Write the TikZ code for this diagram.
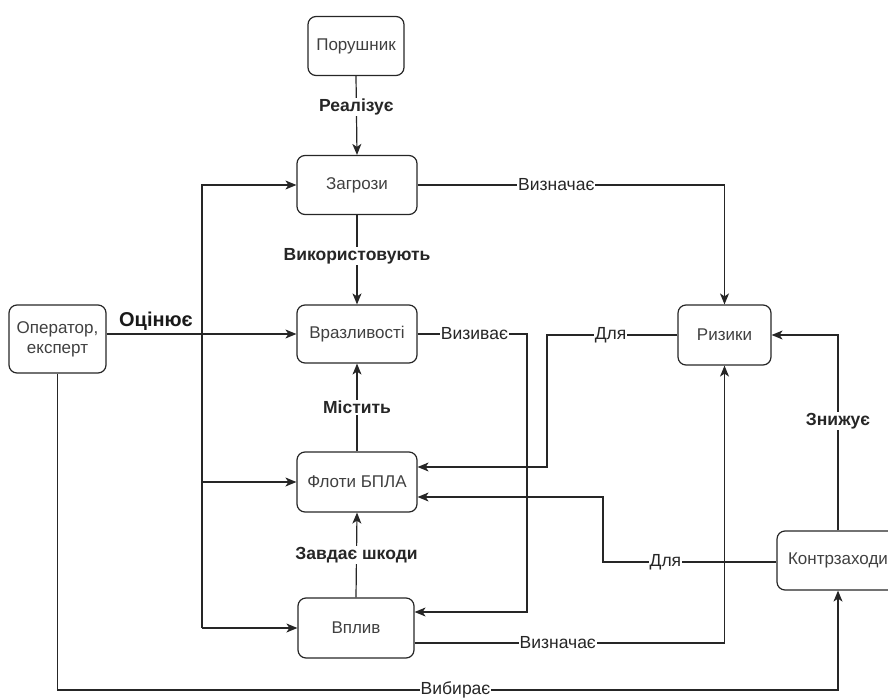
\documentclass[tikz,border=0pt]{standalone}
\usepackage{fontspec}
\setmainfont{Liberation Sans}
\usetikzlibrary{arrows.meta}

\begin{document}
\begin{tikzpicture}[x=1pt,y=-1pt,
  box/.style={draw=black!85, rounded corners=8pt, line width=1.2pt,
    minimum height=59pt, inner sep=0pt, align=center,
    text=black!75, font=\fontsize{17}{20}\selectfont},
  link/.style={draw=black!85, line width=1.2pt, -{Stealth[length=11pt,width=9pt,inset=3pt]}},
  wire/.style={draw=black!85, line width=1.2pt},
  lbl/.style={fill=white, inner sep=1pt, text=black!85, font=\fontsize{17.5}{20}\selectfont},
  blbl/.style={lbl, font=\fontsize{17.5}{20}\selectfont\bfseries}
]
\useasboundingbox (0,0) rectangle (888,698);

% entities
\node[box, minimum width=96pt]  (por) at (356,46)  {Порушник};
\node[box, minimum width=120pt] (zag) at (357,185) {Загрози};
\node[box, minimum width=120pt, minimum height=58pt] (vra) at (357,334) {Вразливості};
\node[box, minimum width=120pt, minimum height=60pt] (flo) at (357,482) {Флоти БПЛА};
\node[box, minimum width=116pt, minimum height=60pt] (vpl) at (356,628) {Вплив};
\node[box, minimum width=97pt, minimum height=68pt]  (op)  at (57.5,339) {Оператор,\\експерт};
\node[box, minimum width=93pt, minimum height=60pt]  (riz) at (724.5,335) {Ризики};
\node[box, minimum width=122pt] (kon) at (838,560.5) {Контрзаходи};

% routing points
\coordinate (jx) at (202,0);
\coordinate (cv) at (527,612);
\coordinate (cr) at (547,467);
\coordinate (ck) at (603,497);
\coordinate (cb) at (0,690);

% main chain
\draw[link] (por.south) -- node[blbl, pos=0.39] {Реалізує} (zag.north);
\draw[link] (zag.south) -- node[blbl, pos=0.46] {Використовують} (vra.north);
\draw[link] (flo.north) -- node[blbl, pos=0.5] {Містить} (vra.south);
\draw[link] (vpl.north) -- node[blbl, pos=0.5] {Завдає шкоди} (flo.south);

% risks
\draw[link] (zag.east) -| node[lbl, pos=0.226] {Визначає} (riz.north);
\draw[link] (vpl.east |- 0,643) -| node[lbl, pos=0.231] {Визначає} (riz.south);
\draw[link] (riz.west) -| node[lbl, pos=0.256] {Для} (cr) -- (cr -| flo.east);
\draw[link] (vra.east) -| node[lbl, pos=0.26] {Визиває} (cv) -- (cv -| vpl.east);

% countermeasures
\draw[link] (kon.west |- 0,562) -| node[lbl, pos=0.32] {Для} (ck) -- (ck -| flo.east);
\draw[link] (kon.north) |- node[blbl, pos=0.28] {Знижує} (riz.east);

% operator
\draw[link] (op.east |- vra.west) -- node[pos=0.26, above=3pt, inner sep=0pt,
  font=\fontsize{20}{22}\selectfont\bfseries, text=black!90] {Оцінює} (vra.west);
\draw[link] (jx |- vpl.west) |- (zag.west);
\draw[link] (jx |- flo.west) -- (flo.west);
\draw[link] (jx |- vpl.west) -- (vpl.west);
\draw[link] (op.south) -- (op.south |- cb) -| node[lbl, pos=0.255] {Вибирає} (kon.south);
\end{tikzpicture}
\end{document}
